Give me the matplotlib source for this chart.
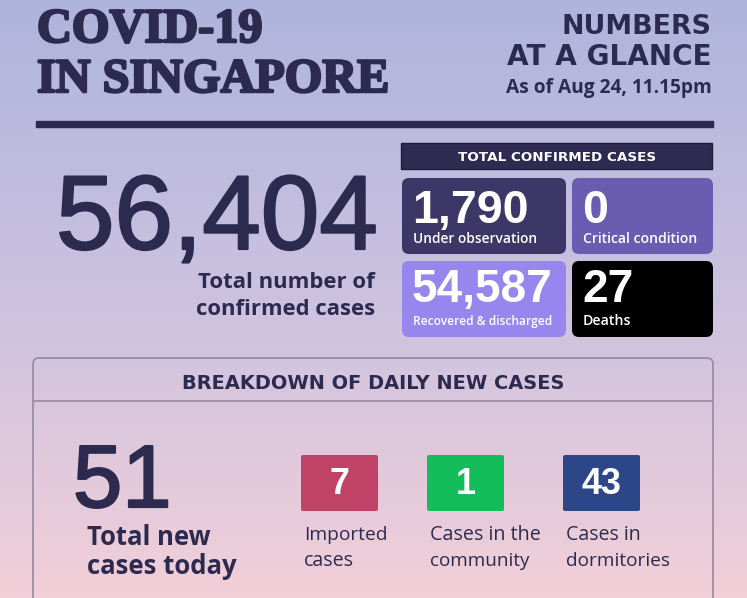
import matplotlib
matplotlib.use("Agg")
import matplotlib.pyplot as plt
import matplotlib.patheffects as pe
import numpy as np
from matplotlib.patches import FancyBboxPatch, Rectangle

# ---------------- data ----------------
title_lines = ["COVID-19", "IN SINGAPORE"]
subtitle_lines = ["NUMBERS", "AT A GLANCE"]
as_of = "As of Aug 24, 11.15pm"
total_confirmed = 56404
total_label = ["Total number of", "confirmed cases"]
status_header = "TOTAL CONFIRMED CASES"
status_labels = ["Under observation", "Critical condition", "Recovered & discharged", "Deaths"]
status_values = [1790, 0, 54587, 27]
breakdown_header = "BREAKDOWN OF DAILY NEW CASES"
new_total = 51
new_total_label = ["Total new", "cases today"]
new_labels = [["Imported", "cases"], ["Cases in the", "community"], ["Cases in", "dormitories"]]
new_values = [7, 1, 43]

# ---------------- style ----------------
W, H = 747, 598
DARK = "#2d2a4f"
status_colors = ["#3d3768", "#6a5cb0", "#9686ee", "#000000"]
new_colors = ["#c04367", "#13be5a", "#2b4788"]

fig = plt.figure(figsize=(W / 100, H / 100), dpi=100)
ax = fig.add_axes([0, 0, 1, 1])
ax.set_xlim(0, W)
ax.set_ylim(H, 0)
ax.axis("off")
renderer = fig.canvas.get_renderer()

# background gradient
stops_y = np.array([0, 300, H])
stops_c = np.array([[175, 180, 220], [204, 194, 224], [242, 207, 216]]) / 255
yy = np.linspace(0, H, 300)
grad = np.stack([np.interp(yy, stops_y, stops_c[:, k]) for k in range(3)], axis=-1)
ax.imshow(grad[:, None, :], extent=[0, W, H, 0], aspect="auto", zorder=0)


def fit(s, x, y, w, ha="left", size=None, stroke=0, **kw):
    t = ax.text(x, y, s, ha=ha, va="baseline", fontsize=10, zorder=5, **kw)
    if size is None:
        bb = t.get_window_extent(renderer)
        size = 10 * w / bb.width
    t.set_fontsize(size)
    if stroke:
        t.set_path_effects([pe.withStroke(linewidth=stroke, foreground=kw.get("color", DARK))])
    return t


SANS = ["Open Sans", "DejaVu Sans"]
WIDE = ["DejaVu Sans"]
ARIAL = ["Liberation Sans", "DejaVu Sans"]

# title
fit(title_lines[0], 37, 42, 224, family="Liberation Serif", weight="bold", color=DARK, stroke=1.8)
fit(title_lines[1], 37, 92, 351, family="Liberation Serif", weight="bold", color=DARK, stroke=1.8)
fit(subtitle_lines[0], 712, 34, 150, ha="right", family=WIDE, weight="bold", color=DARK)
fit(subtitle_lines[1], 712, 65, 205, ha="right", family=WIDE, weight="bold", color=DARK)
fit(as_of, 712, 93, 205, ha="right", family=SANS, weight="bold", color=DARK)
ax.add_patch(Rectangle((36, 121), 677, 6, color=DARK, zorder=3))

# big total
fit(f"{total_confirmed:,}", 56, 249, 322, family=ARIAL, color=DARK, stroke=1.6)
fit(total_label[0], 375, 288, 177, ha="right", family=SANS, weight="bold", color=DARK)
fit(total_label[1], 375, 315, 178, ha="right", family=SANS, weight="bold", color=DARK)

# status header
ax.add_patch(Rectangle((401, 143), 311, 26, facecolor="#2e2a52", edgecolor="#1e1b3a", lw=1, zorder=3))
fit(status_header, 557, 161, 198, ha="center", family=WIDE, weight="bold", color="white")

# status boxes
cells = [(402, 178, 164, 76), (572, 178, 141, 76), (402, 261, 164, 76), (572, 261, 141, 76)]
lab_w = [124, 115, 139, 48]
row_ref = {0: (f"{status_values[0]:,}", 117), 1: (f"{status_values[2]:,}", 141)}
row_size = {}
for r, (s, w) in row_ref.items():
    t = ax.text(0, 0, s, fontsize=10, family=ARIAL, weight="bold")
    row_size[r] = 10 * w / t.get_window_extent(renderer).width
    t.remove()
for i, (x, y, w, h) in enumerate(cells):
    ax.add_patch(FancyBboxPatch((x, y), w, h, boxstyle="round,pad=0,rounding_size=7",
                                facecolor=status_colors[i], edgecolor="none", zorder=3))
    fit(f"{status_values[i]:,}", x + 10, y + 45 if i < 2 else y + 41, None,
        size=row_size[i // 2], family=ARIAL, weight="bold", color="white")
    fit(status_labels[i], x + 11, y + 65 if i < 2 else y + 64, lab_w[i],
        family=SANS, weight="semibold", color="white")

# breakdown panel
ax.add_patch(FancyBboxPatch((33, 358), 680, 300, boxstyle="round,pad=0,rounding_size=6",
                            facecolor="none", edgecolor="#9a8ea6", lw=1.3, zorder=3))
ax.plot([33, 713], [401, 401], color="#9a8ea6", lw=1.3, zorder=3)
fit(breakdown_header, 373, 389, 382, ha="center", family=WIDE, weight="bold", color=DARK)

fit(f"{new_total}", 73, 507, 98, family=ARIAL, color=DARK, stroke=1.6)
fit(new_total_label[0], 87, 545, 124, family=SANS, weight="bold", color=DARK)
fit(new_total_label[1], 87, 574, 150, family=SANS, weight="bold", color=DARK)

t = ax.text(0, 0, "43", fontsize=10, family=ARIAL, weight="bold")
small_size = 10 * 40 / t.get_window_extent(renderer).width
t.remove()
box_x = [301, 427, 563]
lw1 = [83, 111, 75]
lw2 = [50, 100, 104]
for i, v in enumerate(new_values):
    bx = box_x[i]
    ax.add_patch(FancyBboxPatch((bx, 455), 77, 56, boxstyle="round,pad=0,rounding_size=2",
                                facecolor=new_colors[i], edgecolor="none", zorder=3))
    fit(f"{v}", bx + 38.5, 494, None, ha="center", size=small_size,
        family=ARIAL, weight="bold", color="white")
    fit(new_labels[i][0], bx + 3, 540, lw1[i], family=SANS, color=DARK)
    fit(new_labels[i][1], bx + 3, 566, lw2[i], family=SANS, color=DARK)

fig.savefig("out.png", dpi=100)
